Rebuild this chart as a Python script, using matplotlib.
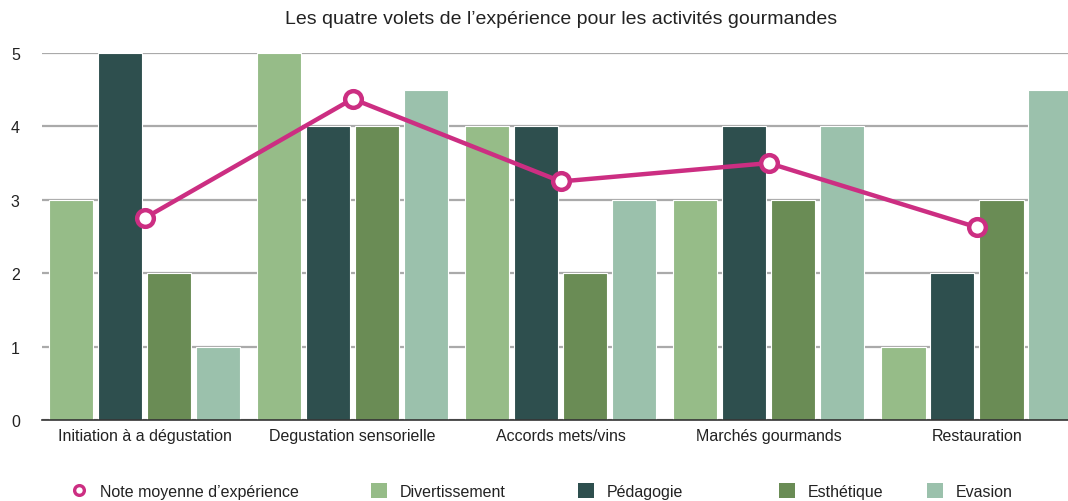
import matplotlib.pyplot as plt
import numpy as np
from matplotlib.lines import Line2D
from matplotlib.patches import Patch

plt.rcParams["font.family"] = ["Liberation Sans", "DejaVu Sans"]

CATEGORIES = [
    "Initiation à a dégustation",
    "Degustation sensorielle",
    "Accords mets/vins",
    "Marchés gourmands",
    "Restauration",
]
SERIES_NAMES = ["Divertissement", "Pédagogie", "Esthétique", "Evasion"]
DIVERTISSEMENT = [3, 5, 4, 3, 1]
PEDAGOGIE = [5, 4, 4, 4, 2]
ESTHETIQUE = [2, 4, 2, 3, 3]
EVASION = [1, 4.5, 3, 4, 4.5]
NOTE_MOYENNE = [2.75, 4.375, 3.25, 3.5, 2.625]
LINE_LABEL = "Note moyenne d’expérience"

COLORS = ["#96bc88", "#2e4f4e", "#6a8c55", "#9bc1ac"]
LINE_COLOR = "#cc2e82"
TEXT_COLOR = "#222222"

W, H = 1068, 502
fig = plt.figure(figsize=(W / 100, H / 100), dpi=100)
ax = fig.add_axes([42 / W, 1 - 421 / H, 1 - 42 / W, (421 - 54) / H])

x = np.arange(len(CATEGORIES))
offsets = [-0.353, -0.118, 0.118, 0.353]
width = 0.212
for values, off, color in zip(
    [DIVERTISSEMENT, PEDAGOGIE, ESTHETIQUE, EVASION], offsets, COLORS
):
    ax.bar(x + off, values, width=width, color=color,
           edgecolor="white", linewidth=0.8, zorder=2)

ax.plot(x, NOTE_MOYENNE, color=LINE_COLOR, linewidth=3.2, marker="o",
        markersize=12, markerfacecolor="white", markeredgecolor=LINE_COLOR,
        markeredgewidth=3.2, zorder=4)

ax.set_xlim(-0.493, 4.4375)
ax.set_ylim(0, 5)
ax.set_yticks(np.arange(0, 6, 1))
ax.set_xticks(x)
ax.set_xticklabels(CATEGORIES)
ax.tick_params(axis="both", length=0, labelsize=11.5, colors=TEXT_COLOR)
ax.tick_params(axis="y", pad=16)
ax.tick_params(axis="x", pad=6)
ax.yaxis.grid(True, color="#aaaaaa", linewidth=1.6, zorder=0)
ax.set_axisbelow(True)
for side in ("left", "right", "top"):
    ax.spines[side].set_visible(False)
ax.spines["bottom"].set_color("#333333")
ax.spines["bottom"].set_linewidth(1.2)
ax.spines["bottom"].set_zorder(3)

fig.text(561 / W, 1 - 20 / H,
         "Les quatre volets de l’expérience pour les activités gourmandes",
         ha="center", va="center", fontsize=14, color=TEXT_COLOR)

# legend entries placed one by one along the bottom
handles = [Line2D([], [], color="none", marker="o", markersize=7,
                  markerfacecolor="white", markeredgecolor=LINE_COLOR,
                  markeredgewidth=2.4)]
handles += [Patch(facecolor=c, edgecolor="none") for c in COLORS]
labels = [LINE_LABEL] + SERIES_NAMES
starts = [71, 371, 578, 779, 927]
for handle, label, start in zip(handles, labels, starts):
    fig.legend([handle], [label], loc="center left",
               bbox_to_anchor=(start / W, 1 - 492 / H), frameon=False,
               fontsize=11.5, handlelength=1.0, handleheight=1.1,
               handletextpad=0.8, borderpad=0, borderaxespad=0,
               labelcolor=TEXT_COLOR)

fig.savefig("out.png", dpi=100, facecolor="white")
